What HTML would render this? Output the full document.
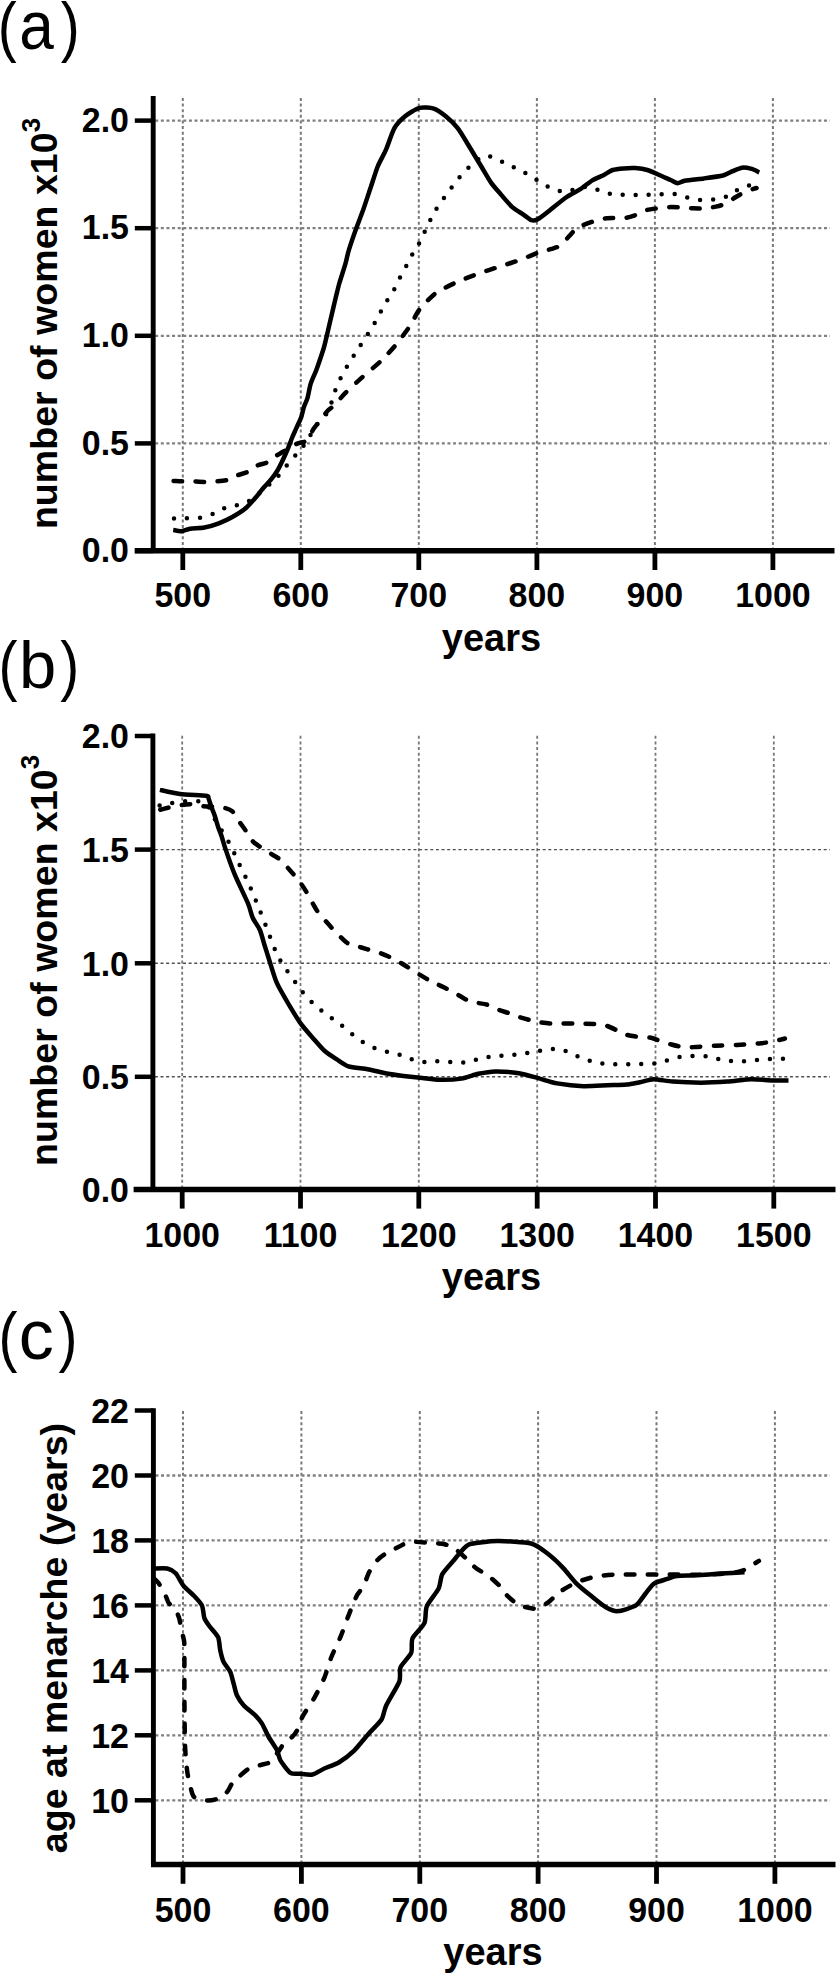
<!DOCTYPE html>
<html><head><meta charset="utf-8"><title>Figure</title>
<style>
html,body{margin:0;padding:0;background:#fff;}
body{width:837px;height:1976px;overflow:hidden;}
svg{display:block;}
.t{font-family:"Liberation Sans", sans-serif;font-weight:bold;font-size:35px;fill:#000;}
.ti{font-family:"Liberation Sans", sans-serif;font-weight:bold;font-size:38px;fill:#000;}
.yt{font-family:"Liberation Sans", sans-serif;font-weight:bold;font-size:37.6px;fill:#000;}
.lt{font-family:"Liberation Sans", sans-serif;font-weight:normal;font-size:67px;fill:#000;}
</style></head>
<body>
<svg width="837" height="1976" viewBox="0 0 837 1976">
<rect width="837" height="1976" fill="#fff"/>
<line x1="182.8" y1="98.0" x2="182.8" y2="548.8" stroke="#787878" stroke-width="2.0" stroke-dasharray="3 2.62" fill="none"/>
<line x1="300.8" y1="98.0" x2="300.8" y2="548.8" stroke="#787878" stroke-width="2.0" stroke-dasharray="3 2.62" fill="none"/>
<line x1="418.8" y1="98.0" x2="418.8" y2="548.8" stroke="#787878" stroke-width="2.0" stroke-dasharray="3 2.62" fill="none"/>
<line x1="536.9" y1="98.0" x2="536.9" y2="548.8" stroke="#787878" stroke-width="2.0" stroke-dasharray="3 2.62" fill="none"/>
<line x1="654.9" y1="98.0" x2="654.9" y2="548.8" stroke="#787878" stroke-width="2.0" stroke-dasharray="3 2.62" fill="none"/>
<line x1="772.9" y1="98.0" x2="772.9" y2="548.8" stroke="#787878" stroke-width="2.0" stroke-dasharray="3 2.62" fill="none"/>
<line x1="155.2" y1="443.4" x2="830.0" y2="443.4" stroke="#808080" stroke-width="2.3" stroke-dasharray="3 2.62" fill="none"/>
<line x1="155.2" y1="335.8" x2="830.0" y2="335.8" stroke="#808080" stroke-width="2.3" stroke-dasharray="3 2.62" fill="none"/>
<line x1="155.2" y1="228.2" x2="830.0" y2="228.2" stroke="#808080" stroke-width="2.3" stroke-dasharray="3 2.62" fill="none"/>
<line x1="155.2" y1="120.6" x2="830.0" y2="120.6" stroke="#808080" stroke-width="2.3" stroke-dasharray="3 2.62" fill="none"/>
<path d="M171.6,480.9 C172.8,480.9 179.9,481.3 182.3,481.3 C184.7,481.3 189.3,481.2 191.9,481.3 C194.5,481.4 201.8,481.9 204.4,481.9 C207.0,481.9 212.0,481.7 214.6,481.5 C217.2,481.3 224.5,480.8 227.1,480.1 C229.7,479.4 234.3,476.4 236.7,475.5 C239.1,474.6 245.0,473.2 247.4,472.0 C249.8,470.8 255.3,466.5 257.6,465.4 C259.9,464.3 265.0,463.6 267.3,462.4 C269.6,461.2 275.3,456.4 277.5,455.0 C279.7,453.6 283.5,451.5 285.8,450.2 C288.1,448.9 294.8,444.7 297.2,443.6 C299.6,442.5 304.9,442.3 306.8,440.6 C308.7,438.9 311.6,431.9 313.3,429.3 C315.0,426.7 320.0,420.7 321.7,418.5 C323.4,416.3 326.2,412.4 327.7,410.8 C329.2,409.2 332.7,406.9 334.8,404.8 C336.9,402.7 342.2,396.1 345.4,392.9 C348.6,389.7 357.9,381.2 362.1,377.4 C366.3,373.6 377.3,364.5 381.2,360.7 C385.1,356.9 392.3,349.1 395.6,345.1 C398.9,341.1 407.1,330.2 409.9,326.0 C412.7,321.8 416.5,313.4 419.5,309.5 C422.5,305.6 431.7,296.1 436.0,293.0 C440.3,289.9 451.1,284.8 456.0,282.5 C460.9,280.2 472.9,275.6 478.0,273.7 C483.1,271.8 495.0,268.1 500.0,266.5 C505.0,264.9 516.1,261.3 520.6,259.7 C525.1,258.1 534.9,253.8 538.5,252.5 C542.1,251.2 549.1,249.7 551.7,248.9 C554.3,248.1 559.3,246.7 561.2,245.3 C563.1,243.9 566.4,239.1 568.4,237.0 C570.4,234.9 574.9,229.3 578.0,227.4 C581.1,225.5 591.4,222.0 594.7,220.9 C598.0,219.8 603.0,218.7 606.6,218.3 C610.2,217.9 622.2,218.3 625.8,217.8 C629.4,217.3 635.2,215.2 637.7,214.3 C640.2,213.4 644.6,210.7 647.0,210.0 C649.4,209.3 655.8,208.6 658.5,208.3 C661.2,208.0 667.7,207.2 670.5,207.1 C673.3,207.0 679.8,207.5 682.4,207.6 C685.0,207.7 690.7,208.2 693.2,208.3 C695.7,208.4 701.3,208.5 703.9,208.3 C706.5,208.1 713.3,207.2 715.9,206.6 C718.5,206.0 724.4,204.6 726.6,203.5 C728.8,202.4 732.8,198.9 735.0,197.5 C737.2,196.1 743.2,192.7 745.7,191.6 C748.2,190.5 755.2,188.4 756.5,188.0" fill="none" stroke="#000" stroke-width="4.5" stroke-linejoin="round" stroke-linecap="round" stroke-dasharray="8.5 13.5" stroke-dashoffset="-2"/>
<path d="M174.0,518.5 C175.5,518.5 183.4,518.4 186.5,518.3 C189.6,518.2 197.1,518.2 200.2,517.7 C203.3,517.2 210.5,515.0 213.4,513.8 C216.3,512.6 222.4,508.9 225.3,507.8 C228.2,506.8 235.5,505.7 238.5,504.8 C241.5,503.9 248.3,501.6 251.0,500.0 C253.7,498.4 259.6,493.1 262.0,491.0 C264.4,488.9 269.3,484.5 271.5,482.4 C273.7,480.3 279.0,475.3 281.1,472.9 C283.2,470.5 287.4,464.5 289.4,462.1 C291.4,459.7 296.3,454.5 298.4,452.0 C300.5,449.5 305.1,443.9 307.0,441.0 C308.9,438.1 313.1,429.8 314.9,427.2 C316.6,424.6 320.4,421.0 322.0,419.0 C323.6,417.0 327.6,412.9 329.0,410.0 C330.4,407.1 332.7,397.8 333.8,394.5 C334.9,391.2 337.4,384.9 338.7,382.0 C340.0,379.1 343.4,372.8 345.0,370.0 C346.6,367.2 350.4,361.0 352.1,358.3 C353.8,355.6 357.6,349.6 359.3,347.0 C361.0,344.4 365.2,338.3 366.9,335.6 C368.6,332.9 372.5,326.9 374.1,324.1 C375.7,321.3 379.3,314.5 380.8,311.7 C382.3,308.9 385.6,303.1 387.2,300.5 C388.8,297.9 392.9,291.8 394.4,289.0 C395.9,286.2 398.9,279.4 400.4,276.6 C401.9,273.8 405.5,267.4 407.0,264.6 C408.5,261.8 411.7,255.3 413.3,252.6 C414.9,249.9 419.0,243.8 420.5,241.1 C422.0,238.4 424.5,232.0 425.9,229.1 C427.3,226.2 430.6,219.4 432.1,216.6 C433.6,213.8 436.9,207.8 438.6,205.2 C440.3,202.6 445.1,196.5 447.0,193.9 C448.9,191.3 452.9,185.7 454.8,183.2 C456.7,180.7 461.6,174.7 463.7,172.4 C465.8,170.1 470.8,165.5 473.2,163.6 C475.6,161.7 481.5,156.3 484.0,155.7 C486.5,155.1 492.0,157.1 494.7,158.1 C497.4,159.1 503.9,162.7 506.8,164.1 C509.7,165.5 516.5,168.6 519.4,170.0 C522.3,171.4 528.7,174.9 531.4,176.5 C534.1,178.1 539.8,182.1 542.6,183.7 C545.4,185.3 552.3,189.0 555.3,189.9 C558.3,190.8 564.9,192.0 567.9,191.6 C570.9,191.2 577.8,187.2 580.8,186.8 C583.8,186.4 590.5,187.7 593.5,188.4 C596.5,189.1 603.5,192.5 606.6,193.2 C609.8,193.9 617.4,194.5 620.5,194.7 C623.6,194.9 630.5,195.1 633.6,195.1 C636.7,195.1 644.1,194.8 647.3,194.7 C650.5,194.6 657.8,194.5 660.9,194.4 C664.0,194.3 671.2,193.5 674.3,193.9 C677.4,194.3 684.2,196.8 687.2,197.5 C690.2,198.2 697.2,199.7 700.3,199.9 C703.4,200.1 710.9,199.8 714.0,199.4 C717.1,199.0 724.4,197.5 727.3,196.3 C730.2,195.1 735.7,190.6 738.6,189.2 C741.5,187.8 750.6,185.0 752.2,184.4" fill="none" stroke="#000" stroke-width="4.5" stroke-linejoin="round" stroke-linecap="round" stroke-dasharray="0 13" stroke-dashoffset="0"/>
<path d="M173.2,530.0 C174.1,530.1 179.1,531.4 181.1,531.2 C183.1,531.0 187.4,529.1 190.1,528.7 C192.8,528.3 201.1,528.1 204.4,527.5 C207.7,526.9 215.6,524.5 218.8,523.3 C222.0,522.1 228.7,519.1 231.9,517.3 C235.1,515.5 243.3,510.3 246.2,507.8 C249.1,505.3 255.2,498.1 257.0,496.0 C258.8,493.9 260.3,491.6 262.0,489.6 C263.7,487.6 269.7,481.1 271.5,478.9 C273.3,476.7 276.1,472.9 277.5,470.5 C278.9,468.1 282.3,461.1 283.5,458.5 C284.7,455.9 287.2,450.3 288.2,447.8 C289.2,445.3 291.4,439.4 292.4,437.0 C293.4,434.6 295.6,429.9 296.6,427.5 C297.7,425.1 300.6,419.1 301.4,416.7 C302.2,414.3 303.1,409.4 303.8,407.2 C304.5,405.0 306.7,400.8 307.5,398.0 C308.3,395.2 309.7,386.8 310.8,383.4 C311.9,380.0 315.2,373.2 316.7,369.0 C318.2,364.8 322.4,352.6 323.9,347.5 C325.4,342.4 327.9,330.9 329.3,325.0 C330.7,319.1 334.6,302.2 335.8,297.3 C337.0,292.4 338.3,286.9 339.4,283.0 C340.5,279.1 344.3,267.8 345.4,263.9 C346.5,260.0 347.7,253.7 349.0,249.6 C350.3,245.5 354.5,233.3 356.2,228.6 C357.9,223.9 361.6,214.2 363.3,209.5 C365.0,204.8 368.8,193.0 370.5,188.0 C372.2,183.0 375.9,171.0 377.7,166.5 C379.5,162.0 384.1,154.2 386.0,149.7 C387.9,145.2 392.2,132.1 394.4,128.2 C396.6,124.3 402.2,118.7 405.1,116.3 C408.0,113.9 416.2,108.8 419.5,107.9 C422.8,107.0 430.7,107.6 433.8,108.6 C436.9,109.6 443.0,114.0 445.8,116.3 C448.6,118.6 454.9,124.6 457.7,128.2 C460.5,131.8 467.0,142.9 469.7,147.3 C472.4,151.7 478.5,161.9 481.0,166.0 C483.5,170.1 488.6,179.2 491.0,182.6 C493.4,186.0 499.0,192.2 501.5,195.1 C504.0,198.0 509.8,204.9 512.3,207.1 C514.8,209.3 520.8,212.8 523.0,214.3 C525.2,215.8 529.7,219.6 531.4,220.2 C533.1,220.8 535.2,220.6 537.3,219.5 C539.4,218.4 546.0,213.3 549.3,210.7 C552.6,208.1 562.4,200.0 566.0,197.5 C569.6,195.0 577.3,191.2 580.4,189.2 C583.5,187.2 589.5,182.0 592.3,180.3 C595.1,178.6 601.9,176.0 604.3,174.8 C606.7,173.6 610.4,170.7 612.6,170.0 C614.8,169.3 620.8,168.6 623.4,168.4 C626.0,168.2 632.5,167.9 635.3,168.1 C638.1,168.3 644.2,169.1 647.3,170.0 C650.4,170.9 658.8,174.8 661.6,176.0 C664.4,177.2 669.3,179.5 671.2,180.3 C673.1,181.1 676.0,183.1 677.6,183.2 C679.2,183.3 681.7,181.4 684.8,180.8 C687.9,180.2 699.4,179.0 703.9,178.4 C708.4,177.8 719.7,176.3 723.0,175.5 C726.3,174.7 730.4,172.1 732.6,171.2 C734.8,170.3 739.9,168.0 742.1,167.7 C744.3,167.4 749.7,168.4 751.7,168.9 C753.7,169.4 758.4,172.0 759.3,172.4" fill="none" stroke="#000" stroke-width="4.5" stroke-linejoin="round" stroke-linecap="butt"/>
<line x1="153.2" y1="96.0" x2="153.2" y2="550.8" stroke="#000" stroke-width="4.9"/>
<line x1="134.8" y1="550.8" x2="834.5" y2="550.8" stroke="#000" stroke-width="5.5"/>
<line x1="134.8" y1="551.0" x2="153.2" y2="551.0" stroke="#000" stroke-width="4.5"/>
<line x1="134.8" y1="443.4" x2="153.2" y2="443.4" stroke="#000" stroke-width="4.5"/>
<line x1="134.8" y1="335.8" x2="153.2" y2="335.8" stroke="#000" stroke-width="4.5"/>
<line x1="134.8" y1="228.2" x2="153.2" y2="228.2" stroke="#000" stroke-width="4.5"/>
<line x1="134.8" y1="120.6" x2="153.2" y2="120.6" stroke="#000" stroke-width="4.5"/>
<line x1="182.8" y1="550.8" x2="182.8" y2="570.0" stroke="#000" stroke-width="4.8"/>
<line x1="300.8" y1="550.8" x2="300.8" y2="570.0" stroke="#000" stroke-width="4.8"/>
<line x1="418.8" y1="550.8" x2="418.8" y2="570.0" stroke="#000" stroke-width="4.8"/>
<line x1="536.9" y1="550.8" x2="536.9" y2="570.0" stroke="#000" stroke-width="4.8"/>
<line x1="654.9" y1="550.8" x2="654.9" y2="570.0" stroke="#000" stroke-width="4.8"/>
<line x1="772.9" y1="550.8" x2="772.9" y2="570.0" stroke="#000" stroke-width="4.8"/>
<text transform="translate(129.0,562.2) scale(0.97,1)" text-anchor="end" class="t">0.0</text>
<text transform="translate(129.0,454.6) scale(0.97,1)" text-anchor="end" class="t">0.5</text>
<text transform="translate(129.0,347.0) scale(0.97,1)" text-anchor="end" class="t">1.0</text>
<text transform="translate(129.0,239.4) scale(0.97,1)" text-anchor="end" class="t">1.5</text>
<text transform="translate(129.0,131.8) scale(0.97,1)" text-anchor="end" class="t">2.0</text>
<text transform="translate(182.8,606.5) scale(0.97,1)" text-anchor="middle" class="t">500</text>
<text transform="translate(300.8,606.5) scale(0.97,1)" text-anchor="middle" class="t">600</text>
<text transform="translate(418.8,606.5) scale(0.97,1)" text-anchor="middle" class="t">700</text>
<text transform="translate(536.9,606.5) scale(0.97,1)" text-anchor="middle" class="t">800</text>
<text transform="translate(654.9,606.5) scale(0.97,1)" text-anchor="middle" class="t">900</text>
<text transform="translate(772.9,606.5) scale(0.97,1)" text-anchor="middle" class="t">1000</text>
<text x="491.5" y="651.0" text-anchor="middle" class="ti">years</text>
<text transform="translate(57.3,323.5) rotate(-90)" text-anchor="middle" class="yt">number of women x10<tspan style="font-size:26px" dy="-17.6">3</tspan></text>
<text transform="translate(-2.20,48.60) scale(0.85,1)" class="lt">(</text>
<text transform="translate(19.32,48.60) scale(0.9,1)" class="lt" style="font-size:69px">a</text>
<text transform="translate(60.65,48.60) scale(0.85,1)" class="lt">)</text>
<line x1="182.2" y1="735.8" x2="182.2" y2="1187.4" stroke="#787878" stroke-width="1.8" stroke-dasharray="3 2.62" fill="none"/>
<line x1="300.5" y1="735.8" x2="300.5" y2="1187.4" stroke="#787878" stroke-width="1.8" stroke-dasharray="3 2.62" fill="none"/>
<line x1="418.8" y1="735.8" x2="418.8" y2="1187.4" stroke="#787878" stroke-width="1.8" stroke-dasharray="3 2.62" fill="none"/>
<line x1="537.2" y1="735.8" x2="537.2" y2="1187.4" stroke="#787878" stroke-width="1.8" stroke-dasharray="3 2.62" fill="none"/>
<line x1="655.5" y1="735.8" x2="655.5" y2="1187.4" stroke="#787878" stroke-width="1.8" stroke-dasharray="3 2.62" fill="none"/>
<line x1="773.8" y1="735.8" x2="773.8" y2="1187.4" stroke="#787878" stroke-width="1.8" stroke-dasharray="3 2.62" fill="none"/>
<line x1="154.9" y1="1076.8" x2="830.0" y2="1076.8" stroke="#505050" stroke-width="1.4" stroke-dasharray="3 2.62" fill="none"/>
<line x1="154.9" y1="963.3" x2="830.0" y2="963.3" stroke="#505050" stroke-width="1.4" stroke-dasharray="3 2.62" fill="none"/>
<line x1="154.9" y1="849.6" x2="830.0" y2="849.6" stroke="#505050" stroke-width="1.4" stroke-dasharray="3 2.62" fill="none"/>
<path d="M158.4,810.2 C159.5,809.9 165.5,808.4 167.9,807.8 C170.3,807.2 176.1,805.8 178.7,805.4 C181.3,805.0 187.4,804.1 190.0,804.2 C192.6,804.3 199.2,805.7 201.4,806.0 C203.6,806.3 205.9,806.4 208.5,806.6 C211.1,806.8 221.2,807.2 224.0,807.8 C226.8,808.4 230.6,809.7 232.4,811.4 C234.2,813.1 238.1,819.9 239.6,822.1 C241.1,824.3 244.1,828.3 245.6,830.5 C247.1,832.7 250.8,839.1 252.7,841.2 C254.6,843.3 260.1,846.9 262.3,848.4 C264.5,849.9 269.7,853.0 271.9,854.4 C274.1,855.8 279.5,858.7 281.4,860.4 C283.3,862.1 286.9,866.8 288.6,868.7 C290.3,870.6 294.3,875.2 295.8,877.1 C297.3,879.0 300.4,882.8 301.8,884.8 C303.2,886.8 306.0,891.2 307.8,894.3 C309.6,897.4 314.5,907.2 317.3,911.1 C320.1,915.0 328.4,924.2 331.7,927.8 C335.0,931.4 343.5,940.1 346.0,942.1 C348.5,944.1 350.7,944.2 353.2,945.0 C355.7,945.8 364.4,948.4 367.5,949.3 C370.6,950.2 376.4,951.8 379.5,952.9 C382.6,954.0 390.7,957.4 393.8,958.9 C396.9,960.4 403.3,964.5 405.8,966.0 C408.3,967.5 412.8,970.5 415.3,972.0 C417.8,973.5 424.8,977.8 427.3,979.2 C429.8,980.6 434.8,982.9 436.8,983.9 C438.8,984.9 442.8,986.8 444.8,987.8 C446.8,988.8 451.8,991.2 454.3,992.6 C456.8,994.0 463.8,998.5 466.3,999.7 C468.8,1000.9 473.4,1002.0 475.8,1002.6 C478.2,1003.2 484.1,1003.7 486.6,1004.5 C489.1,1005.3 494.8,1008.3 497.3,1009.3 C499.8,1010.3 505.7,1012.1 508.1,1012.9 C510.5,1013.7 515.2,1015.7 517.7,1016.5 C520.2,1017.3 527.0,1019.3 529.6,1020.0 C532.2,1020.7 537.8,1022.0 540.4,1022.4 C543.0,1022.8 548.4,1023.5 552.3,1023.6 C556.2,1023.7 568.5,1023.5 573.8,1023.6 C579.1,1023.7 593.8,1023.8 597.7,1024.1 C601.6,1024.4 605.1,1025.3 607.3,1026.0 C609.5,1026.7 614.5,1029.2 616.8,1030.3 C619.1,1031.3 624.3,1034.2 627.2,1035.0 C630.1,1035.8 638.7,1037.0 641.5,1037.3 C644.3,1037.6 648.7,1037.3 651.1,1037.8 C653.5,1038.3 659.4,1040.8 661.8,1041.6 C664.2,1042.4 668.8,1043.8 671.4,1044.5 C674.0,1045.2 681.6,1047.1 684.5,1047.4 C687.4,1047.7 692.9,1047.1 696.5,1046.9 C700.1,1046.7 710.9,1045.9 715.6,1045.7 C720.3,1045.5 731.8,1045.3 737.1,1045.0 C742.4,1044.7 756.5,1043.8 761.0,1043.3 C765.5,1042.8 772.5,1041.5 775.3,1040.9 C778.1,1040.3 783.8,1038.8 784.9,1038.5" fill="none" stroke="#000" stroke-width="4.5" stroke-linejoin="round" stroke-linecap="round" stroke-dasharray="8.5 13.5" stroke-dashoffset="-2"/>
<path d="M159.6,805.4 C161.0,805.1 168.6,803.5 171.5,803.0 C174.4,802.5 181.5,801.4 184.6,801.2 C187.7,801.0 195.6,800.6 198.4,801.2 C201.2,801.8 206.6,804.6 208.5,806.6 C210.4,808.6 213.0,815.7 214.5,818.5 C216.0,821.3 220.0,827.7 221.7,830.5 C223.4,833.3 227.4,839.6 228.9,842.4 C230.4,845.2 233.4,851.5 234.8,854.4 C236.2,857.3 239.4,864.6 240.8,867.5 C242.2,870.4 245.5,876.6 246.8,879.5 C248.1,882.4 251.1,889.2 252.3,892.1 C253.5,895.0 256.3,901.7 257.5,904.6 C258.7,907.5 261.2,914.0 262.4,917.0 C263.6,920.0 266.4,927.1 267.6,930.2 C268.8,933.3 271.2,940.3 272.4,943.3 C273.6,946.3 276.5,953.2 277.9,956.0 C279.3,958.8 282.9,964.6 284.6,967.2 C286.3,969.8 290.4,975.4 292.3,978.0 C294.2,980.6 298.7,986.9 300.6,989.4 C302.5,991.9 306.8,997.2 309.0,999.5 C311.2,1001.8 316.9,1007.0 319.3,1009.0 C321.8,1011.0 327.4,1015.0 330.0,1016.9 C332.6,1018.8 338.7,1023.1 341.2,1025.0 C343.7,1026.9 349.0,1031.6 351.5,1033.6 C354.0,1035.6 360.0,1040.3 362.7,1042.0 C365.4,1043.7 371.8,1046.8 374.7,1048.0 C377.6,1049.2 384.8,1051.2 387.8,1052.0 C390.8,1052.8 397.5,1054.0 400.5,1054.9 C403.5,1055.8 410.3,1059.1 413.4,1059.9 C416.5,1060.7 423.7,1062.0 426.8,1062.1 C429.9,1062.2 437.3,1061.1 440.4,1061.1 C443.5,1061.1 450.4,1062.2 453.6,1062.3 C456.8,1062.4 464.4,1062.8 467.5,1062.3 C470.6,1061.8 477.5,1059.0 480.6,1058.3 C483.7,1057.6 490.6,1056.8 493.8,1056.4 C497.0,1056.0 504.9,1055.5 508.1,1055.2 C511.3,1054.9 518.1,1054.4 521.2,1054.0 C524.4,1053.6 532.0,1052.3 535.1,1051.8 C538.2,1051.3 544.9,1049.7 548.0,1049.4 C551.1,1049.1 558.4,1048.8 561.4,1049.4 C564.4,1050.0 570.9,1053.5 573.8,1054.7 C576.7,1055.9 583.3,1058.5 586.2,1059.5 C589.1,1060.5 595.8,1062.5 598.9,1063.1 C602.0,1063.7 610.0,1064.2 613.2,1064.3 C616.4,1064.4 623.0,1064.2 626.2,1064.2 C629.4,1064.2 637.0,1064.2 640.3,1064.1 C643.6,1064.0 651.1,1064.0 654.2,1063.6 C657.3,1063.2 663.6,1061.3 666.6,1060.5 C669.6,1059.7 676.6,1057.4 679.7,1056.9 C682.8,1056.4 689.7,1056.0 692.9,1056.0 C696.1,1056.0 704.0,1056.1 707.2,1056.5 C710.4,1056.9 717.3,1058.8 720.4,1059.3 C723.5,1059.8 730.9,1061.0 734.0,1061.2 C737.1,1061.4 744.2,1061.4 747.4,1061.2 C750.5,1061.0 757.9,1059.9 761.0,1059.6 C764.1,1059.3 771.0,1059.0 774.1,1058.9 C777.2,1058.8 785.8,1058.9 787.3,1058.9" fill="none" stroke="#000" stroke-width="4.5" stroke-linejoin="round" stroke-linecap="round" stroke-dasharray="0 13" stroke-dashoffset="0"/>
<path d="M159.9,789.9 C162.2,790.4 174.6,793.3 180.0,794.0 C185.4,794.7 202.9,795.3 206.2,795.8 C209.5,796.3 207.9,797.0 208.5,798.2 C209.1,799.4 210.3,804.0 211.0,806.0 C211.7,808.0 213.7,812.6 214.5,815.0 C215.3,817.4 217.3,824.4 218.1,826.9 C218.9,829.4 220.9,834.0 221.7,836.5 C222.5,839.0 223.8,843.9 225.3,848.4 C226.8,852.9 232.2,868.3 234.8,874.7 C237.4,881.1 245.9,898.4 248.0,903.4 C250.1,908.4 251.3,914.6 252.7,917.7 C254.1,920.8 258.5,926.8 259.9,930.0 C261.3,933.2 263.4,941.4 264.5,945.0 C265.6,948.6 268.2,956.8 269.6,961.2 C271.0,965.6 274.5,977.7 276.7,982.7 C278.9,987.7 285.9,999.6 288.7,1004.3 C291.5,1009.0 297.8,1019.5 300.6,1023.4 C303.4,1027.3 309.8,1034.5 312.6,1037.7 C315.4,1040.9 321.7,1048.3 324.5,1050.8 C327.3,1053.3 333.7,1057.4 336.5,1059.2 C339.3,1061.0 344.8,1065.2 348.4,1066.4 C352.0,1067.6 363.0,1068.4 367.5,1069.2 C372.0,1070.0 382.4,1072.7 386.6,1073.5 C390.8,1074.3 399.2,1075.4 403.4,1075.9 C407.6,1076.4 418.2,1077.4 422.5,1077.9 C426.8,1078.4 435.4,1079.7 440.0,1079.8 C444.6,1079.9 457.0,1079.3 461.5,1078.6 C466.0,1077.9 474.3,1074.6 478.2,1073.8 C482.1,1073.0 490.3,1071.5 495.0,1071.4 C499.7,1071.3 513.9,1072.5 518.9,1073.3 C523.9,1074.1 533.5,1076.9 538.0,1078.1 C542.5,1079.3 551.8,1082.5 557.1,1083.4 C562.4,1084.3 577.5,1086.0 583.4,1086.2 C589.3,1086.4 602.3,1085.5 607.3,1085.3 C612.3,1085.1 622.6,1085.0 626.4,1084.6 C630.2,1084.2 636.8,1082.8 640.0,1082.2 C643.2,1081.6 649.7,1079.3 653.5,1079.2 C657.3,1079.1 667.0,1081.2 672.6,1081.6 C678.2,1082.0 694.8,1082.7 701.2,1082.7 C707.6,1082.7 721.6,1082.0 727.5,1081.6 C733.4,1081.2 746.1,1079.3 751.4,1079.2 C756.7,1079.1 768.6,1080.3 772.9,1080.4 C777.2,1080.5 786.7,1080.4 788.5,1080.4" fill="none" stroke="#000" stroke-width="4.5" stroke-linejoin="round" stroke-linecap="butt"/>
<line x1="152.9" y1="733.6" x2="152.9" y2="1189.4" stroke="#000" stroke-width="4.9"/>
<line x1="133.6" y1="1189.4" x2="835.5" y2="1189.4" stroke="#000" stroke-width="5.5"/>
<line x1="134.8" y1="1189.4" x2="152.9" y2="1189.4" stroke="#000" stroke-width="4.5"/>
<line x1="134.8" y1="1076.8" x2="152.9" y2="1076.8" stroke="#000" stroke-width="4.5"/>
<line x1="134.8" y1="963.3" x2="152.9" y2="963.3" stroke="#000" stroke-width="4.5"/>
<line x1="134.8" y1="849.6" x2="152.9" y2="849.6" stroke="#000" stroke-width="4.5"/>
<line x1="134.8" y1="736.0" x2="152.9" y2="736.0" stroke="#000" stroke-width="4.5"/>
<line x1="182.2" y1="1189.4" x2="182.2" y2="1208.6" stroke="#000" stroke-width="4.8"/>
<line x1="300.5" y1="1189.4" x2="300.5" y2="1208.6" stroke="#000" stroke-width="4.8"/>
<line x1="418.8" y1="1189.4" x2="418.8" y2="1208.6" stroke="#000" stroke-width="4.8"/>
<line x1="537.2" y1="1189.4" x2="537.2" y2="1208.6" stroke="#000" stroke-width="4.8"/>
<line x1="655.5" y1="1189.4" x2="655.5" y2="1208.6" stroke="#000" stroke-width="4.8"/>
<line x1="773.8" y1="1189.4" x2="773.8" y2="1208.6" stroke="#000" stroke-width="4.8"/>
<text transform="translate(129.0,1201.6) scale(0.97,1)" text-anchor="end" class="t">0.0</text>
<text transform="translate(129.0,1089.0) scale(0.97,1)" text-anchor="end" class="t">0.5</text>
<text transform="translate(129.0,975.5) scale(0.97,1)" text-anchor="end" class="t">1.0</text>
<text transform="translate(129.0,861.8) scale(0.97,1)" text-anchor="end" class="t">1.5</text>
<text transform="translate(129.0,748.2) scale(0.97,1)" text-anchor="end" class="t">2.0</text>
<text transform="translate(182.2,1246.8) scale(0.97,1)" text-anchor="middle" class="t">1000</text>
<text transform="translate(300.5,1246.8) scale(0.97,1)" text-anchor="middle" class="t">1100</text>
<text transform="translate(418.8,1246.8) scale(0.97,1)" text-anchor="middle" class="t">1200</text>
<text transform="translate(537.2,1246.8) scale(0.97,1)" text-anchor="middle" class="t">1300</text>
<text transform="translate(655.5,1246.8) scale(0.97,1)" text-anchor="middle" class="t">1400</text>
<text transform="translate(773.8,1246.8) scale(0.97,1)" text-anchor="middle" class="t">1500</text>
<text x="491.5" y="1289.9" text-anchor="middle" class="ti">years</text>
<text transform="translate(56.7,960.4) rotate(-90)" text-anchor="middle" class="yt">number of women x10<tspan style="font-size:26px" dy="-17.6">3</tspan></text>
<text transform="translate(-1.50,687.50) scale(0.85,1)" class="lt">(</text>
<text transform="translate(18.90,687.50) scale(1,1)" class="lt" style="font-size:67px">b</text>
<text transform="translate(60.35,687.50) scale(0.85,1)" class="lt">)</text>
<line x1="183.0" y1="1411.0" x2="183.0" y2="1862.6" stroke="#787878" stroke-width="2.0" stroke-dasharray="3 2.62" fill="none"/>
<line x1="301.4" y1="1411.0" x2="301.4" y2="1862.6" stroke="#787878" stroke-width="2.0" stroke-dasharray="3 2.62" fill="none"/>
<line x1="419.8" y1="1411.0" x2="419.8" y2="1862.6" stroke="#787878" stroke-width="2.0" stroke-dasharray="3 2.62" fill="none"/>
<line x1="538.1" y1="1411.0" x2="538.1" y2="1862.6" stroke="#787878" stroke-width="2.0" stroke-dasharray="3 2.62" fill="none"/>
<line x1="656.5" y1="1411.0" x2="656.5" y2="1862.6" stroke="#787878" stroke-width="2.0" stroke-dasharray="3 2.62" fill="none"/>
<line x1="774.9" y1="1411.0" x2="774.9" y2="1862.6" stroke="#787878" stroke-width="2.0" stroke-dasharray="3 2.62" fill="none"/>
<line x1="155.4" y1="1800.3" x2="830.0" y2="1800.3" stroke="#808080" stroke-width="2.3" stroke-dasharray="3 2.62" fill="none"/>
<line x1="155.4" y1="1735.3" x2="830.0" y2="1735.3" stroke="#808080" stroke-width="2.3" stroke-dasharray="3 2.62" fill="none"/>
<line x1="155.4" y1="1670.4" x2="830.0" y2="1670.4" stroke="#808080" stroke-width="2.3" stroke-dasharray="3 2.62" fill="none"/>
<line x1="155.4" y1="1605.4" x2="830.0" y2="1605.4" stroke="#808080" stroke-width="2.3" stroke-dasharray="3 2.62" fill="none"/>
<line x1="155.4" y1="1540.4" x2="830.0" y2="1540.4" stroke="#808080" stroke-width="2.3" stroke-dasharray="3 2.62" fill="none"/>
<line x1="155.4" y1="1475.5" x2="830.0" y2="1475.5" stroke="#808080" stroke-width="2.3" stroke-dasharray="3 2.62" fill="none"/>
<path d="M152.5,1577.0 C153.2,1577.7 157.0,1581.1 158.4,1582.9 C159.8,1584.7 163.1,1590.1 164.3,1592.4 C165.5,1594.7 167.5,1601.0 168.5,1602.6 C169.5,1604.2 171.7,1605.7 172.5,1606.5 C173.3,1607.3 174.9,1608.3 175.7,1609.7 C176.5,1611.1 178.6,1616.2 179.3,1618.7 C180.0,1621.2 181.1,1628.5 181.7,1631.2 C182.3,1633.9 183.9,1638.6 184.2,1642.0 C184.5,1645.4 184.4,1654.4 184.4,1660.0 C184.4,1665.6 184.4,1683.0 184.4,1690.0 C184.4,1697.0 184.5,1713.6 184.6,1720.0 C184.7,1726.4 184.8,1740.3 185.0,1745.0 C185.2,1749.7 185.7,1756.6 186.0,1760.0 C186.3,1763.4 187.0,1770.4 187.6,1773.8 C188.2,1777.2 190.1,1786.1 190.9,1788.8 C191.7,1791.5 192.4,1795.8 194.3,1797.2 C196.2,1798.6 204.2,1800.3 206.8,1800.5 C209.4,1800.7 214.6,1799.9 216.9,1798.9 C219.2,1797.9 225.2,1794.0 226.9,1792.2 C228.7,1790.4 230.3,1785.7 231.9,1783.8 C233.5,1781.9 238.4,1777.2 240.3,1775.5 C242.2,1773.8 246.3,1770.0 248.6,1768.8 C250.9,1767.6 257.8,1765.9 260.3,1765.1 C262.8,1764.3 268.3,1763.6 270.4,1762.1 C272.5,1760.6 276.3,1754.3 278.0,1752.0 C279.7,1749.7 283.4,1743.8 285.0,1742.0 C286.6,1740.2 290.7,1738.4 292.1,1737.0 C293.5,1735.6 295.8,1732.8 297.1,1730.3 C298.4,1727.8 300.8,1719.8 302.9,1715.9 C305.0,1712.0 312.4,1701.3 314.9,1696.8 C317.4,1692.3 322.5,1682.3 324.4,1677.7 C326.3,1673.1 329.5,1661.8 331.4,1657.0 C333.3,1652.2 338.9,1640.9 340.8,1636.2 C342.7,1631.5 346.5,1620.7 347.9,1617.1 C349.3,1613.5 351.6,1607.7 352.7,1605.1 C353.8,1602.5 356.2,1596.6 357.5,1594.4 C358.8,1592.2 362.1,1588.6 363.5,1586.0 C364.9,1583.4 367.7,1574.8 369.4,1571.7 C371.1,1568.6 375.7,1561.9 377.8,1559.7 C379.9,1557.5 384.8,1554.1 387.3,1552.6 C389.8,1551.1 396.7,1547.9 399.3,1546.6 C401.9,1545.3 406.4,1542.2 410.0,1541.8 C413.6,1541.4 426.4,1542.7 430.4,1543.0 C434.4,1543.3 441.6,1543.4 444.7,1544.2 C447.8,1545.0 454.1,1548.5 456.6,1550.2 C459.1,1551.9 464.0,1556.4 466.2,1558.5 C468.4,1560.6 473.3,1566.1 475.8,1568.1 C478.3,1570.1 484.9,1573.2 487.7,1575.3 C490.5,1577.4 497.4,1583.6 499.7,1586.0 C502.0,1588.4 504.9,1593.4 507.2,1595.6 C509.5,1597.8 515.8,1603.6 519.1,1605.1 C522.4,1606.6 532.5,1609.0 535.8,1608.7 C539.1,1608.4 545.0,1604.6 547.8,1602.7 C550.6,1600.8 556.4,1594.4 559.7,1592.0 C563.0,1589.6 572.3,1584.2 576.5,1582.4 C580.7,1580.6 591.1,1577.4 595.6,1576.5 C600.1,1575.6 609.7,1574.8 614.7,1574.6 C619.7,1574.4 633.0,1574.6 638.6,1574.6 C644.2,1574.6 657.1,1574.6 662.5,1574.6 C667.9,1574.6 679.4,1574.6 684.8,1574.6 C690.2,1574.6 703.1,1574.8 708.7,1574.6 C714.3,1574.4 728.5,1573.4 732.6,1572.9 C736.7,1572.4 742.1,1570.7 744.0,1570.0 C745.9,1569.3 747.6,1568.0 749.3,1566.9 C751.0,1565.8 757.8,1561.6 758.9,1560.9" fill="none" stroke="#000" stroke-width="4.5" stroke-linejoin="round" stroke-linecap="round" stroke-dasharray="8.5 13.5" stroke-dashoffset="-2"/>
<path d="M153.6,1568.5 C155.2,1568.5 164.7,1567.9 167.3,1568.5 C169.9,1569.1 173.8,1571.3 175.7,1573.3 C177.6,1575.3 181.3,1583.2 183.5,1585.8 C185.7,1588.4 192.0,1593.7 194.2,1596.0 C196.4,1598.3 200.8,1603.0 202.0,1605.6 C203.2,1608.2 203.5,1615.7 204.4,1618.1 C205.3,1620.5 208.1,1624.3 209.7,1626.5 C211.3,1628.7 216.9,1634.5 218.1,1637.2 C219.3,1639.9 219.6,1647.1 220.2,1650.0 C220.8,1652.9 222.3,1659.2 223.5,1661.7 C224.7,1664.2 229.0,1669.3 230.2,1671.8 C231.4,1674.3 232.8,1680.8 233.6,1683.5 C234.4,1686.2 235.7,1692.7 236.9,1695.2 C238.1,1697.7 241.5,1702.9 243.6,1705.2 C245.7,1707.5 253.2,1713.2 255.3,1715.3 C257.4,1717.4 260.4,1721.1 262.0,1723.6 C263.6,1726.1 266.9,1733.9 268.7,1737.0 C270.5,1740.1 275.7,1747.7 277.1,1750.4 C278.5,1753.1 278.8,1757.8 280.4,1760.4 C282.0,1763.0 288.1,1771.3 290.4,1772.9 C292.7,1774.5 297.4,1773.6 300.0,1773.8 C302.6,1774.0 309.7,1775.1 312.5,1774.5 C315.3,1773.9 321.3,1769.9 324.4,1768.5 C327.5,1767.1 335.4,1764.6 338.8,1762.5 C342.2,1760.4 350.5,1754.2 353.9,1750.9 C357.3,1747.6 365.0,1737.8 368.2,1734.2 C371.4,1730.6 379.3,1723.1 381.4,1719.8 C383.5,1716.5 384.1,1710.0 386.2,1705.5 C388.3,1701.0 397.6,1686.1 399.3,1681.6 C401.0,1677.1 399.1,1670.6 400.5,1667.3 C401.9,1664.0 409.8,1656.2 411.2,1652.9 C412.6,1649.6 410.9,1642.1 412.4,1638.6 C413.9,1635.1 422.7,1626.9 424.4,1623.1 C426.1,1619.3 425.1,1610.3 426.8,1606.3 C428.5,1602.3 436.9,1592.2 438.7,1588.4 C440.5,1584.6 440.5,1577.4 442.3,1574.1 C444.1,1570.8 452.2,1562.2 454.3,1559.7 C456.4,1557.2 458.4,1554.4 460.2,1552.6 C462.0,1550.8 465.5,1545.5 469.8,1544.2 C474.1,1542.9 490.1,1541.2 497.3,1541.1 C504.5,1541.0 525.2,1542.0 531.1,1543.5 C537.0,1545.0 544.0,1550.9 547.8,1553.8 C551.6,1556.7 560.0,1564.6 563.3,1568.1 C566.6,1571.6 573.3,1580.4 576.5,1583.6 C579.7,1586.8 587.3,1592.8 590.8,1595.6 C594.3,1598.4 603.1,1605.7 606.3,1607.5 C609.5,1609.3 614.8,1611.4 618.3,1611.1 C621.8,1610.8 633.0,1607.2 636.2,1605.1 C639.4,1603.0 643.7,1595.7 645.8,1593.2 C647.9,1590.7 651.5,1585.3 654.0,1583.6 C656.5,1581.9 664.6,1579.8 667.3,1578.9 C670.0,1578.0 673.4,1576.4 676.8,1576.0 C680.2,1575.6 691.6,1575.6 696.7,1575.3 C701.8,1575.0 715.0,1574.0 720.6,1573.6 C726.2,1573.2 741.7,1572.4 744.5,1572.2" fill="none" stroke="#000" stroke-width="4.5" stroke-linejoin="round" stroke-linecap="butt"/>
<line x1="153.4" y1="1408.2" x2="153.4" y2="1864.6" stroke="#000" stroke-width="4.9"/>
<line x1="151.0" y1="1864.6" x2="835.5" y2="1864.6" stroke="#000" stroke-width="5.5"/>
<line x1="134.8" y1="1800.3" x2="153.4" y2="1800.3" stroke="#000" stroke-width="4.5"/>
<line x1="134.8" y1="1735.3" x2="153.4" y2="1735.3" stroke="#000" stroke-width="4.5"/>
<line x1="134.8" y1="1670.4" x2="153.4" y2="1670.4" stroke="#000" stroke-width="4.5"/>
<line x1="134.8" y1="1605.4" x2="153.4" y2="1605.4" stroke="#000" stroke-width="4.5"/>
<line x1="134.8" y1="1540.4" x2="153.4" y2="1540.4" stroke="#000" stroke-width="4.5"/>
<line x1="134.8" y1="1475.5" x2="153.4" y2="1475.5" stroke="#000" stroke-width="4.5"/>
<line x1="134.8" y1="1410.5" x2="153.4" y2="1410.5" stroke="#000" stroke-width="4.5"/>
<line x1="183.0" y1="1864.6" x2="183.0" y2="1883.8" stroke="#000" stroke-width="4.8"/>
<line x1="301.4" y1="1864.6" x2="301.4" y2="1883.8" stroke="#000" stroke-width="4.8"/>
<line x1="419.8" y1="1864.6" x2="419.8" y2="1883.8" stroke="#000" stroke-width="4.8"/>
<line x1="538.1" y1="1864.6" x2="538.1" y2="1883.8" stroke="#000" stroke-width="4.8"/>
<line x1="656.5" y1="1864.6" x2="656.5" y2="1883.8" stroke="#000" stroke-width="4.8"/>
<line x1="774.9" y1="1864.6" x2="774.9" y2="1883.8" stroke="#000" stroke-width="4.8"/>
<text transform="translate(129.0,1812.5) scale(0.97,1)" text-anchor="end" class="t">10</text>
<text transform="translate(129.0,1747.5) scale(0.97,1)" text-anchor="end" class="t">12</text>
<text transform="translate(129.0,1682.6) scale(0.97,1)" text-anchor="end" class="t">14</text>
<text transform="translate(129.0,1617.6) scale(0.97,1)" text-anchor="end" class="t">16</text>
<text transform="translate(129.0,1552.6) scale(0.97,1)" text-anchor="end" class="t">18</text>
<text transform="translate(129.0,1487.7) scale(0.97,1)" text-anchor="end" class="t">20</text>
<text transform="translate(129.0,1422.7) scale(0.97,1)" text-anchor="end" class="t">22</text>
<text transform="translate(183.0,1922.3) scale(0.97,1)" text-anchor="middle" class="t">500</text>
<text transform="translate(301.4,1922.3) scale(0.97,1)" text-anchor="middle" class="t">600</text>
<text transform="translate(419.8,1922.3) scale(0.97,1)" text-anchor="middle" class="t">700</text>
<text transform="translate(538.1,1922.3) scale(0.97,1)" text-anchor="middle" class="t">800</text>
<text transform="translate(656.5,1922.3) scale(0.97,1)" text-anchor="middle" class="t">900</text>
<text transform="translate(774.9,1922.3) scale(0.97,1)" text-anchor="middle" class="t">1000</text>
<text x="493.0" y="1964.8" text-anchor="middle" class="ti">years</text>
<text transform="translate(66.6,1638.0) rotate(-90)" text-anchor="middle" class="yt">age at menarche (years)</text>
<text transform="translate(-1.50,1359.00) scale(0.85,1)" class="lt">(</text>
<text transform="translate(18.87,1359.00) scale(1,1)" class="lt" style="font-size:70px">c</text>
<text transform="translate(58.45,1359.00) scale(0.85,1)" class="lt">)</text>
</svg>
</body></html>
